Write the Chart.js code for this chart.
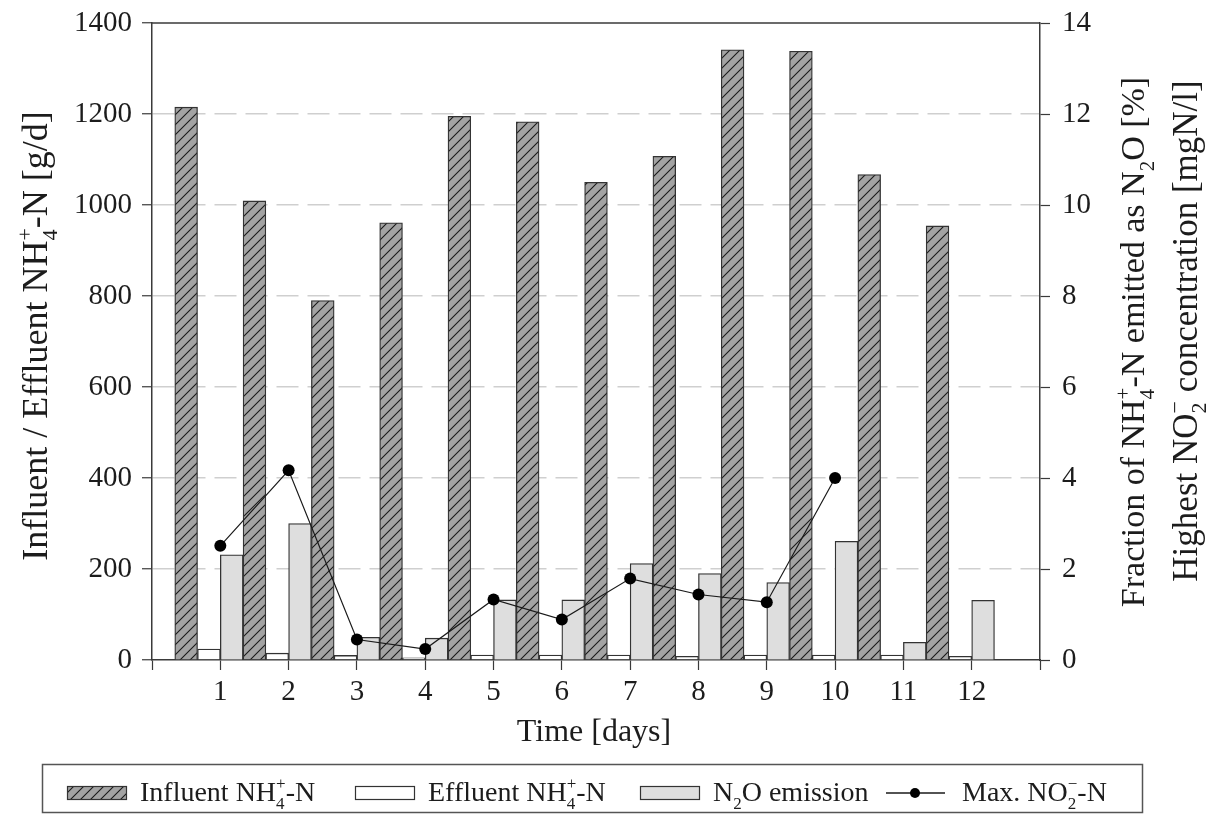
<!DOCTYPE html>
<html>
<head>
<meta charset="utf-8">
<script src="https://cdn.jsdelivr.net/npm/chart.js@4/dist/chart.umd.min.js"></script>
<style>
  html, body { margin: 0; padding: 0; background: #ffffff; }
  #wrap { width: 1207px; height: 814px; position: relative; }
</style>
</head>
<body>
<div id="wrap"><canvas id="chart"></canvas></div>
<script>
// Daily ammonium loads (left axis, g/d)
const days = [1, 2, 3, 4, 5, 6, 7, 8, 9, 10, 11, 12];
const influentNH4 = [1215, 1009, 790, 961, 1195, 1183, 1050, 1107, 1341, 1338, 1067, 954];
const effluentNH4 = [24, 15, 10, 5, 11, 11, 11, 8, 11, 11, 11, 8];
// Fraction of NH4+-N emitted as N2O (right axis, %)
const n2oEmission = [2.31, 3.0, 0.5, 0.48, 1.32, 1.32, 2.12, 1.9, 1.7, 2.61, 0.39, 1.31];
// Highest nitrite concentration (right axis, mgN/l), measured on days 1-10
const no2Days = [1, 2, 3, 4, 5, 6, 7, 8, 9, 10];
const maxNO2 = [2.51, 4.17, 0.45, 0.24, 1.33, 0.89, 1.79, 1.44, 1.27, 4.0];

const leftTicks = [0, 200, 400, 600, 800, 1000, 1200, 1400];
const rightTicks = [0, 2, 4, 6, 8, 10, 12, 14];

const FONT = '"Liberation Serif", "Times New Roman", serif';
const INK = '#1c1c1c';
const AXIS = '#3a3a3a';

const canvas = document.getElementById('chart');
const ctx0 = canvas.getContext('2d');

// diagonal hatch fill for the influent bars
function hatchPattern() {
  const s = 10;
  const c = document.createElement('canvas');
  c.width = s; c.height = s;
  const g = c.getContext('2d');
  g.fillStyle = '#a3a3a3';
  g.fillRect(0, 0, s, s);
  g.strokeStyle = '#1a1a1a';
  g.lineWidth = 1.1;
  g.beginPath();
  g.moveTo(-1, s + 1); g.lineTo(s + 1, -1);
  g.moveTo(-1, 1); g.lineTo(1, -1);
  g.moveTo(s - 1, s + 1); g.lineTo(s + 1, s - 1);
  g.stroke();
  return ctx0.createPattern(c, 'repeat');
}
const hatch = hatchPattern();

// each day holds three adjacent bars, one third of a day wide
const barOffset = { influent: -0.5, effluent: -1 / 6, n2o: 1 / 6 };
const pts = (xs, ys, off) => xs.map((d, i) => ({ x: d + off, y: ys[i] }));

// text with sub/superscripts (stacked when both are present)
function layoutRich(ctx, parts, size) {
  const small = Math.round(size * 0.62);
  let w = 0;
  const items = [];
  for (const p of parts) {
    if (typeof p === 'string') {
      ctx.font = `${size}px ${FONT}`;
      items.push({ t: p, x: w, dy: 0, f: ctx.font });
      w += ctx.measureText(p).width;
    } else {
      ctx.font = `${small}px ${FONT}`;
      let adv = 0;
      if (p.sub) { items.push({ t: p.sub, x: w, dy: size * 0.28, f: ctx.font }); adv = Math.max(adv, ctx.measureText(p.sub).width); }
      if (p.sup) { items.push({ t: p.sup, x: w, dy: -size * 0.42, f: ctx.font }); adv = Math.max(adv, ctx.measureText(p.sup).width); }
      w += adv;
    }
  }
  return { items, w };
}
function drawRich(ctx, parts, x, y, size, align) {
  ctx.save();
  const L = layoutRich(ctx, parts, size);
  const x0 = align === 'center' ? x - L.w / 2 : x;
  ctx.fillStyle = INK;
  ctx.textAlign = 'left';
  ctx.textBaseline = 'alphabetic';
  for (const it of L.items) {
    ctx.font = it.f;
    ctx.fillText(it.t, x0 + it.x, y + it.dy);
  }
  ctx.restore();
}
function drawRichVertical(ctx, parts, cx, cy, size) {
  ctx.save();
  ctx.translate(cx, cy);
  ctx.rotate(-Math.PI / 2);
  drawRich(ctx, parts, 0, size * 0.33, size, 'center');
  ctx.restore();
}

const leftTitle = ['Influent / Effluent NH', { sub: '4', sup: '+' }, '-N [g/d]'];
const rightTitle1 = ['Fraction of NH', { sub: '4', sup: '+' }, '-N emitted as N', { sub: '2' }, 'O [%]'];
const rightTitle2 = ['Highest NO', { sub: '2', sup: '\u2212' }, ' concentration [mgN/l]'];
const bottomTitle = ['Time [days]'];
const legendLabels = [
  ['Influent NH', { sub: '4', sup: '+' }, '-N'],
  ['Effluent NH', { sub: '4', sup: '+' }, '-N'],
  ['N', { sub: '2' }, 'O emission'],
  ['Max. NO', { sub: '2', sup: '\u2212' }, '-N']
];

// vertical axes: no extra room for half-labels at the ends
const noEndPadding = s => { s.paddingTop = 0; s.paddingBottom = 0; };

const decorations = {
  id: 'decorations',
  afterDraw(chart) {
    const ctx = chart.ctx;
    const a = chart.chartArea;
    // top edge of the frame
    ctx.save();
    ctx.strokeStyle = AXIS;
    ctx.lineWidth = 1.5;
    ctx.beginPath();
    ctx.moveTo(a.left, a.top);
    ctx.lineTo(a.right, a.top);
    ctx.stroke();
    ctx.restore();

    // axis titles
    drawRichVertical(ctx, leftTitle, 35, 336, 36);
    drawRichVertical(ctx, rightTitle1, 1133, 342, 34);
    drawRichVertical(ctx, rightTitle2, 1185, 331, 35);
    drawRich(ctx, bottomTitle, (a.left + a.right) / 2 - 2, 741, 32, 'center');

    // legend
    const ds = chart.data.datasets;
    ctx.save();
    ctx.strokeStyle = '#555';
    ctx.lineWidth = 1.5;
    ctx.strokeRect(42.5, 764.5, 1100, 48);
    const swY = 786, swH = 14, swW = 60;
    const swX = [67, 355, 640];
    for (let i = 0; i < 3; i++) {
      ctx.fillStyle = ds[i].backgroundColor;
      ctx.fillRect(swX[i], swY, swW, swH);
      ctx.strokeStyle = ds[i].borderColor;
      ctx.lineWidth = 1.2;
      ctx.strokeRect(swX[i] + 0.5, swY + 0.5, swW - 1, swH - 1);
    }
    ctx.strokeStyle = ds[3].borderColor;
    ctx.lineWidth = 1.3;
    ctx.beginPath();
    ctx.moveTo(886, 793);
    ctx.lineTo(945, 793);
    ctx.stroke();
    ctx.fillStyle = ds[3].pointBackgroundColor;
    ctx.beginPath();
    ctx.arc(915, 793, 5, 0, Math.PI * 2);
    ctx.fill();
    ctx.restore();
    const txX = [140, 428, 713, 962];
    legendLabels.forEach((parts, i) => drawRich(ctx, parts, txX[i], 801, 28, 'left'));
  }
};

new Chart(canvas, {
  type: 'bar',
  data: {
    datasets: [
      {
        label: 'Influent NH4+-N',
        data: pts(days, influentNH4, barOffset.influent),
        yAxisID: 'y',
        backgroundColor: hatch,
        borderColor: '#333333',
        borderWidth: 1.3,
        grouped: false,
        barPercentage: 1,
        categoryPercentage: 1,
        order: 2
      },
      {
        label: 'Effluent NH4+-N',
        data: pts(days, effluentNH4, barOffset.effluent),
        yAxisID: 'y',
        backgroundColor: '#ffffff',
        borderColor: '#333333',
        borderWidth: 1.3,
        grouped: false,
        barPercentage: 1,
        categoryPercentage: 1,
        order: 2
      },
      {
        label: 'N2O emission',
        data: pts(days, n2oEmission, barOffset.n2o),
        yAxisID: 'y2',
        backgroundColor: '#dedede',
        borderColor: '#333333',
        borderWidth: 1.3,
        grouped: false,
        barPercentage: 1,
        categoryPercentage: 1,
        order: 2
      },
      {
        type: 'line',
        label: 'Max. NO2--N',
        data: pts(no2Days, maxNO2, 0),
        yAxisID: 'y2',
        borderColor: '#1a1a1a',
        borderWidth: 1.2,
        pointRadius: 6,
        pointBackgroundColor: '#000000',
        pointBorderWidth: 0,
        tension: 0,
        fill: false,
        order: 0
      }
    ]
  },
  options: {
    responsive: true,
    maintainAspectRatio: false,
    animation: false,
    layout: { padding: { top: 23, left: 0, right: 0, bottom: 0 } },
    plugins: { legend: { display: false }, tooltip: { enabled: false } },
    scales: {
      x: {
        type: 'linear',
        min: 0,
        max: days.length + 1,
        offset: false,
        afterBuildTicks: s => { s.ticks = Array.from({ length: days.length + 2 }, (_, v) => ({ value: v })); },
        afterFit: s => { s.height = 154; s.paddingLeft = 0; s.paddingRight = 0; },
        ticks: {
          autoSkip: false,
          maxRotation: 0,
          padding: 5,
          color: INK,
          font: { family: FONT, size: 29 },
          callback: v => (days.includes(v) ? String(v) : '')
        },
        grid: { drawOnChartArea: false, offset: false, tickLength: 10, tickColor: AXIS, tickWidth: 1.2 },
        border: { display: true, color: AXIS, width: 1.5 }
      },
      y: {
        position: 'left',
        min: leftTicks[0],
        max: leftTicks[leftTicks.length - 1],
        afterBuildTicks: s => { s.ticks = leftTicks.map(v => ({ value: v })); },
        afterFit: s => { s.width = 152; noEndPadding(s); },
        ticks: {
          padding: 10,
          color: INK,
          font: { family: FONT, size: 29 },
          callback: v => String(v)
        },
        grid: {
          drawOnChartArea: true,
          color: c => (c.tick && c.tick.value > leftTicks[0] && c.tick.value < leftTicks[leftTicks.length - 1]) ? '#cfcfcf' : 'rgba(0,0,0,0)',
          lineWidth: 1.5,
          tickLength: 10,
          tickColor: AXIS,
          tickWidth: 1.2
        },
        border: { display: true, color: AXIS, width: 1.5, dash: [22, 9] }
      },
      y2: {
        position: 'right',
        min: rightTicks[0],
        max: rightTicks[rightTicks.length - 1],
        afterBuildTicks: s => { s.ticks = rightTicks.map(v => ({ value: v })); },
        afterFit: s => { s.width = 167; noEndPadding(s); },
        ticks: {
          padding: 12,
          color: INK,
          font: { family: FONT, size: 29 },
          callback: v => String(v)
        },
        grid: { drawOnChartArea: false, tickLength: 10, tickColor: AXIS, tickWidth: 1.2 },
        border: { display: true, color: AXIS, width: 1.5 }
      }
    }
  },
  plugins: [decorations]
});
</script>
</body>
</html>
